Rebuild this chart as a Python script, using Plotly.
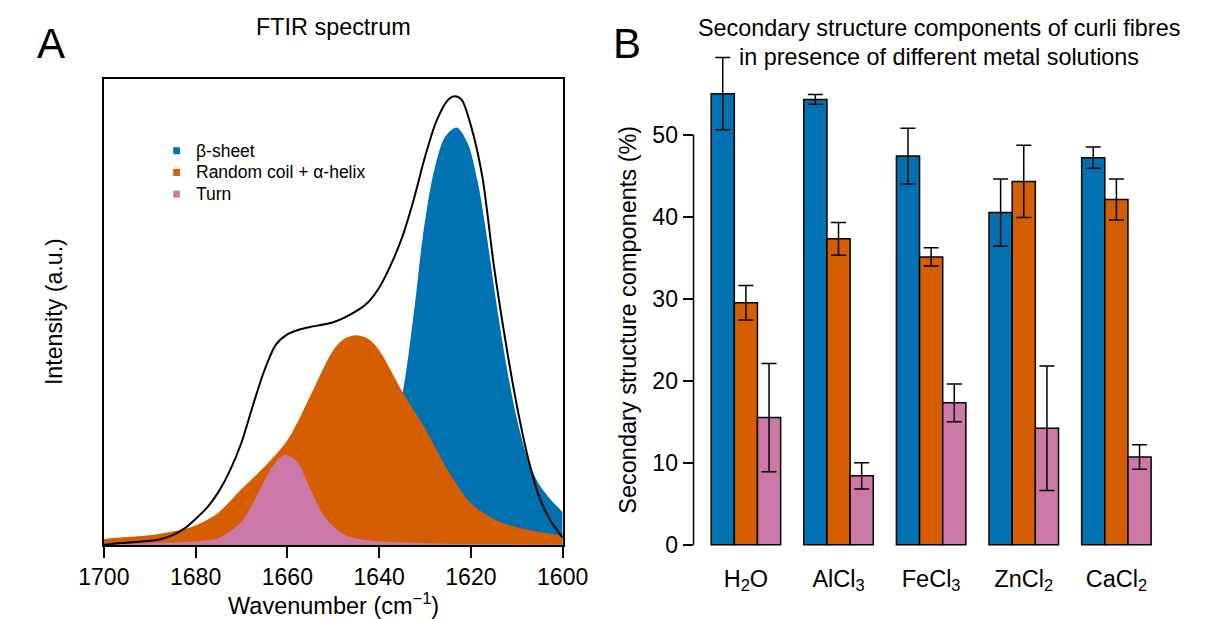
import plotly.graph_objects as go

W, H = 1205, 619
OFF = 8  # page body margin of the generated html
BLUE, ORANGE, PINK = "#0072B2", "#D55E00", "#CC79A7"
FONT = "Liberation Sans, Arial, Helvetica, sans-serif"

# ---------------- Panel A data (arbitrary units) ----------------
beta_wn = [1700, 1690, 1680, 1670, 1660, 1650, 1645, 1640, 1637.5, 1634.8, 1632.2, 1630.5,
           1628.0, 1625.6, 1623.1, 1620.7, 1618.6, 1616.5, 1614.4, 1612.3, 1610.0, 1607.4,
           1605.0, 1602.5, 1600]
beta_int = [0.002, 0.003, 0.004, 0.007, 0.012, 0.03, 0.06, 0.14, 0.22, 0.33, 0.517, 0.66,
            0.804, 0.876, 0.896, 0.862, 0.783, 0.66, 0.516, 0.387, 0.272, 0.178,
            0.128, 0.096, 0.071]

coil_wn = [1700, 1695, 1690, 1685, 1680, 1675, 1670, 1665, 1660, 1655, 1650, 1647.5, 1645,
           1642.5, 1640, 1635, 1630, 1625, 1620, 1615, 1610, 1605, 1600]
coil_int = [0.013, 0.017, 0.021, 0.029, 0.042, 0.07, 0.12, 0.168, 0.225, 0.32, 0.418, 0.443, 0.45,
            0.443, 0.418, 0.33, 0.25, 0.16, 0.09, 0.056, 0.038, 0.028, 0.02]

turn_wn = [1700, 1690, 1680, 1675, 1670, 1667.5, 1665, 1662.5, 1660.5, 1658, 1655, 1652.5,
           1650, 1647.5, 1645, 1640, 1630, 1620, 1600]
turn_int = [0.002, 0.004, 0.008, 0.015, 0.05, 0.09, 0.138, 0.178, 0.193, 0.18, 0.12, 0.07,
            0.04, 0.022, 0.014, 0.008, 0.004, 0.002, 0.001]

total_wn = [1700, 1697.5, 1695, 1690, 1687.5, 1685, 1682.5, 1680, 1677.5, 1675, 1672.5, 1670,
            1667.5, 1665, 1662.5, 1660, 1657.5, 1655, 1650, 1645, 1642.5, 1640, 1637.5, 1635,
            1632.5, 1630, 1627.5, 1625, 1623.5, 1622, 1620, 1617.5, 1615, 1612.5, 1610, 1607.5,
            1605, 1602.5, 1600]
total_int = [0.0, 0.003, 0.005, 0.009, 0.013, 0.021, 0.035, 0.056, 0.08, 0.114, 0.16, 0.22,
             0.3, 0.375, 0.43, 0.452, 0.462, 0.468, 0.478, 0.502, 0.52, 0.552, 0.6, 0.66,
             0.74, 0.833, 0.91, 0.955, 0.963, 0.955, 0.9, 0.79, 0.6, 0.44, 0.3, 0.185,
             0.1, 0.05, 0.016]

wn_ticks = [1700, 1680, 1660, 1640, 1620, 1600]
legend_names = ["β-sheet", "Random coil + α-helix", "Turn"]

# ---------------- Panel B data ----------------
solutions = ["H<sub>2</sub>O", "AlCl<sub>3</sub>", "FeCl<sub>3</sub>", "ZnCl<sub>2</sub>", "CaCl<sub>2</sub>"]
beta_pct = [55.0, 54.3, 47.4, 40.5, 47.2]
beta_err = [4.4, 0.6, 3.4, 4.1, 1.3]
coil_pct = [29.5, 37.3, 35.1, 44.3, 42.1]
coil_err = [2.1, 2.0, 1.1, 4.4, 2.5]
turn_pct = [15.5, 8.4, 17.3, 14.2, 10.7]
turn_err = [6.6, 1.6, 2.3, 7.6, 1.5]
pct_ticks = [0, 10, 20, 30, 40, 50]

# ---------------- helpers (window pixel -> paper) ----------------
def px(x):
    return (x - OFF) / W

def py(y):
    return 1 - (y - OFF) / H

fig = go.Figure()

# Panel A fills (drawn in order: beta, coil, turn), then measured spectrum
for wn, val, col in [(beta_wn, beta_int, BLUE), (coil_wn, coil_int, ORANGE), (turn_wn, turn_int, PINK)]:
    fig.add_trace(go.Scatter(x=wn, y=val, mode="lines", line=dict(color=col, width=0, shape="spline", smoothing=0.9),
                             fill="tozeroy", fillcolor=col, showlegend=False, hoverinfo="skip",
                             xaxis="x", yaxis="y"))
fig.add_trace(go.Scatter(x=total_wn, y=total_int, mode="lines",
                         line=dict(color="black", width=2, shape="spline", smoothing=0.8),
                         showlegend=False, xaxis="x", yaxis="y"))

# Panel B bars
series = [(beta_pct, beta_err, BLUE), (coil_pct, coil_err, ORANGE), (turn_pct, turn_err, PINK)]
nser = len(series)
for k, (vals, errs, col) in enumerate(series):
    xs = [1.5 + (nser + 1) * i + k for i in range(len(solutions))]
    fig.add_trace(go.Bar(x=xs, y=vals, width=1, marker=dict(color=col, line=dict(color="black", width=1.5)),
                         error_y=dict(type="data", array=errs, visible=True, color="black", thickness=1.5, width=7.5),
                         showlegend=False, xaxis="x2", yaxis="y2"))

group_centers = [1 + (nser + 1) * i + nser / 2 for i in range(len(solutions))]
xmax = (nser + 1) * len(solutions)
pad = 0.04 * (xmax - 1)

# layout geometry (window pixels)
A_left, A_right, A_top, A_bottom = 81, 560.5, 79, 545
B_left, B_right = 697.3, 1193.9
B_base, px_per_unit = 544.7, 8.2
B_top_px, B_bot_px = 40, 562

fig.update_layout(
    width=W, height=H, margin=dict(l=0, r=0, t=0, b=0),
    paper_bgcolor="white", plot_bgcolor="white",
    font=dict(family=FONT, color="black"),
    barmode="overlay", showlegend=False,
    xaxis=dict(domain=[px(A_left), px(A_right)], range=[1700, 1600], tickvals=wn_ticks,
               ticks="outside", ticklen=11, tickwidth=1.5, tickcolor="black",
               showline=True, mirror=True, linecolor="black", linewidth=1.5,
               showgrid=False, zeroline=False, tickfont=dict(size=23)),
    yaxis=dict(domain=[py(A_bottom), py(A_top)], range=[0, 1], showticklabels=False, ticks="",
               showline=True, mirror=True, linecolor="black", linewidth=1.5,
               showgrid=False, zeroline=False),
    xaxis2=dict(domain=[px(B_left), px(B_right)], range=[1 - pad, xmax + pad],
                tickvals=group_centers, ticktext=solutions, ticks="", showline=False,
                showgrid=False, zeroline=False, tickfont=dict(size=23.5), anchor="y2"),
    yaxis2=dict(domain=[py(B_bot_px), py(B_top_px)],
                range=[(B_base - B_bot_px) / px_per_unit, (B_base - B_top_px) / px_per_unit],
                tickvals=pct_ticks, ticks="outside", ticklen=10, tickwidth=1.5, tickcolor="black",
                showline=False, showgrid=False, zeroline=False, tickfont=dict(size=23), anchor="x2"),
)

# y axis line of panel B spanning the tick range
fig.add_shape(type="line", xref="x2 domain", x0=0, x1=0, yref="y2", y0=min(pct_ticks), y1=max(pct_ticks),
              line=dict(color="black", width=1.5))

# legend of panel A (key squares + labels)
leg_x_sq, leg_x_txt, leg_y0, leg_dy, sq = 157, 175, 150.7, 21.7, 3.5
for i, (name, col) in enumerate(zip(legend_names, [BLUE, ORANGE, PINK])):
    yc = leg_y0 + i * leg_dy
    fig.add_shape(type="rect", xref="paper", yref="paper",
                  x0=px(leg_x_sq - sq), x1=px(leg_x_sq + sq), y0=py(yc + sq), y1=py(yc - sq),
                  fillcolor=col, line=dict(width=0))
    fig.add_annotation(text=name, xref="paper", yref="paper", x=px(leg_x_txt), y=py(yc),
                       xanchor="left", yanchor="middle", showarrow=False, font=dict(size=17.5))

ann = [
    dict(text="A", x=px(26), y=py(43), font=dict(size=42)),
    dict(text="B", x=px(628), y=py(43), font=dict(size=42)),
    dict(text="FTIR spectrum", x=px(321), y=py(27), font=dict(size=23.4)),
    dict(text="Secondary structure components of curli fibres", x=px(954), y=py(28.5), font=dict(size=23.4)),
    dict(text="in presence of different metal solutions", x=px(954), y=py(57), font=dict(size=23.4)),
    dict(text="Wavenumber (cm<sup>−1</sup>)", x=px(321), y=py(604), font=dict(size=23.5)),
    dict(text="Intensity (a.u.)", x=px(29), y=py(312), font=dict(size=23.2), textangle=-90),
    dict(text="Secondary structure components (%)", x=px(628.5), y=py(320), font=dict(size=23.5), textangle=-90),
]
for a in ann:
    fig.add_annotation(xref="paper", yref="paper", xanchor="center", yanchor="middle", showarrow=False, **a)

fig.write_html("out.html")
